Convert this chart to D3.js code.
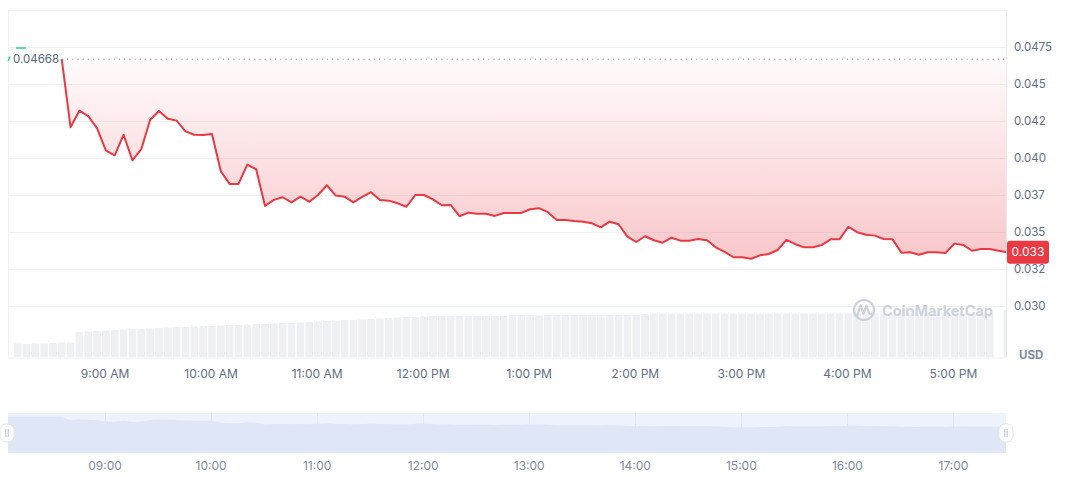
<!DOCTYPE html>
<html>
<head>
<meta charset="utf-8">
<script src="https://cdn.jsdelivr.net/npm/d3@7"></script>
<style>
  body { margin: 0; background: #fff; font-family: Inter, "Noto Sans", sans-serif; }
  svg { display: block; }
</style>
</head>
<body>
<svg id="chart" width="1072" height="477"></svg>
<script>
// price every 5 minutes, starting 08:35:48
var prices = [
  0.04668, 0.04208, 0.04320, 0.04284, 0.04201, 0.04050, 0.04019, 0.04158, 0.03985, 0.04060,
  0.04257, 0.04318, 0.04266, 0.04253, 0.04181, 0.04158, 0.04156, 0.04163, 0.03911, 0.03826,
  0.03826, 0.03956, 0.03925, 0.03677, 0.03718, 0.03736, 0.03702, 0.03740, 0.03706, 0.03751,
  0.03817, 0.03747, 0.03740, 0.03702, 0.03738, 0.03770, 0.03718, 0.03713, 0.03695, 0.03672,
  0.03751, 0.03751, 0.03722, 0.03682, 0.03684, 0.03608, 0.03632, 0.03625, 0.03625, 0.03610,
  0.03630, 0.03630, 0.03630, 0.03655, 0.03662, 0.03635, 0.03583, 0.03583, 0.03576, 0.03571,
  0.03560, 0.03533, 0.03571, 0.03554, 0.03470, 0.03434, 0.03473, 0.03446, 0.03429, 0.03463,
  0.03443, 0.03443, 0.03454, 0.03446, 0.03398, 0.03367, 0.03331, 0.03331, 0.03321, 0.03344,
  0.03353, 0.03380, 0.03448, 0.03419, 0.03398, 0.03398, 0.03414, 0.03452, 0.03452, 0.03537,
  0.03500, 0.03483, 0.03477, 0.03454, 0.03452, 0.03362, 0.03365, 0.03348, 0.03365, 0.03365,
  0.03360, 0.03423, 0.03414, 0.03375, 0.03387, 0.03387, 0.03375, 0.03365
];

// volume bars every 5 minutes, starting 08:10:48 (thousands USD)
var volumes = [
  280, 270, 280, 280, 290, 300, 300,
  510, 520, 530, 540, 550, 560, 570, 570, 580, 590, 600, 610, 610, 620,
  630, 630, 640, 650, 650, 660, 670, 670, 680, 690, 690, 700, 710, 720,
  730, 740, 750, 750, 760, 770, 780, 790, 800, 810, 810, 820,
  830, 830, 830, 830, 830, 830, 830, 830, 830,
  850, 850, 850, 840, 850, 850, 850, 850, 850, 850, 850, 850, 850, 850, 850,
  870, 880, 880, 880, 880, 880, 880, 880, 880, 880, 880, 880, 880, 880, 880,
  880, 880, 880, 880, 880, 880, 880, 880, 880, 880, 880, 880, 880, 880, 880,
  880, 880, 880, 880, 880, 880, 880, 880, 880, 880,
  0, 950
];

var yTicks = [0.030, 0.0325, 0.035, 0.0375, 0.040, 0.0425, 0.045, 0.0475];
var yTickLabels = ["0.030", "0.032", "0.035", "0.037", "0.040", "0.042", "0.045", "0.0475"];
var hourTicks = [9, 10, 11, 12, 13, 14, 15, 16, 17];
var hourLabels = ["9:00 AM", "10:00 AM", "11:00 AM", "12:00 PM", "1:00 PM", "2:00 PM", "3:00 PM", "4:00 PM", "5:00 PM"];
var navLabels = ["09:00", "10:00", "11:00", "12:00", "13:00", "14:00", "15:00", "16:00", "17:00"];
var openPrice = 0.04668;
var openLabel = "0.04668";
var lastLabel = "0.033";

var priceStart = new Date(2024, 0, 1, 8, 35, 48);
var volStart = new Date(2024, 0, 1, 8, 10, 48);
var stepMs = 5 * 60 * 1000;

var red = "#ea3943";
var textGray = "#616e85";
var gridColor = "#eff2f5";

var svg = d3.select("#chart");

var plotL = 8, plotR = 1006, plotT = 10, plotB = 357.5;

var x = d3.scaleTime()
  .domain([new Date(2024, 0, 1, 8, 5, 24), new Date(2024, 0, 1, 17, 30, 0)])
  .range([plotL, plotR]);
var y = d3.scaleLinear().domain([0.030, 0.0475]).range([306.3, 47]);
var yVol = d3.scaleLinear().domain([0, 1000]).range([plotB, plotB - 50]);

var priceData = prices.map(function(v, i) {
  return { t: new Date(priceStart.getTime() + i * stepMs), v: v };
});
var volData = volumes.map(function(v, i) {
  return { t: new Date(volStart.getTime() + i * stepMs), v: v };
});

var defs = svg.append("defs");
defs.append("clipPath").attr("id", "plotClip")
  .append("rect").attr("x", plotL).attr("y", plotT).attr("width", plotR - plotL).attr("height", plotB - plotT);

// gridlines
svg.append("g").selectAll("line")
  .data(yTicks.concat([0.05]))
  .enter().append("line")
  .attr("x1", plotL).attr("x2", plotR)
  .attr("y1", function(d) { return Math.round(y(d)) + 0.5; })
  .attr("y2", function(d) { return Math.round(y(d)) + 0.5; })
  .attr("stroke", gridColor);

// volume bars
var barW = 7.6;
svg.append("g").attr("clip-path", "url(#plotClip)")
  .selectAll("rect").data(volData).enter().append("rect")
  .attr("x", function(d) { return x(d.t) - barW / 2; })
  .attr("width", barW)
  .attr("y", function(d) { return yVol(d.v); })
  .attr("height", function(d) { return plotB - yVol(d.v); })
  .attr("fill", "#eef0f4");

// frame
svg.append("line").attr("x1", plotL + 0.5).attr("x2", plotL + 0.5).attr("y1", plotT).attr("y2", plotB).attr("stroke", gridColor);
svg.append("line").attr("x1", plotR + 0.5).attr("x2", plotR + 0.5).attr("y1", plotT).attr("y2", plotB).attr("stroke", "#e6e9ee");
svg.append("line").attr("x1", plotL).attr("x2", plotR).attr("y1", plotB + 0.5).attr("y2", plotB + 0.5).attr("stroke", gridColor);

// gradient fill between open price and line
var grad = defs.append("linearGradient")
  .attr("id", "redFill").attr("gradientUnits", "userSpaceOnUse")
  .attr("x1", 0).attr("x2", 0).attr("y1", y(openPrice)).attr("y2", y(0.0332));
grad.append("stop").attr("offset", "0%").attr("stop-color", red).attr("stop-opacity", 0.02);
grad.append("stop").attr("offset", "100%").attr("stop-color", red).attr("stop-opacity", 0.28);

var area = d3.area()
  .x(function(d) { return x(d.t); })
  .y0(y(openPrice))
  .y1(function(d) { return y(d.v); });
svg.append("path").datum(priceData).attr("clip-path", "url(#plotClip)")
  .attr("d", area).attr("fill", "url(#redFill)");

// watermark
var wm = svg.append("g").attr("opacity", 0.9);
wm.append("circle").attr("cx", 864).attr("cy", 310).attr("r", 10)
  .attr("fill", "none").attr("stroke", "#c9ced8").attr("stroke-width", 2.2);
wm.append("path")
  .attr("d", "M857.5,315 L860.5,305.5 L863.5,313.5 L866.5,305.5 L868.5,312 Q869.5,315 872,313.5")
  .attr("fill", "none").attr("stroke", "#c9ced8").attr("stroke-width", 2.2)
  .attr("stroke-linejoin", "round").attr("stroke-linecap", "round");
wm.append("text").attr("x", 882).attr("y", 316)
  .attr("font-size", 14.5).attr("font-weight", 700).attr("fill", "#c9ced8")
  .text("CoinMarketCap");

// open price dotted line
svg.append("line")
  .attr("x1", x(priceData[0].t)).attr("x2", plotR)
  .attr("y1", y(openPrice)).attr("y2", y(openPrice))
  .attr("stroke", "#8a94a6").attr("stroke-width", 1)
  .attr("stroke-dasharray", "1.2,4");

// price line
var line = d3.line()
  .x(function(d) { return x(d.t); })
  .y(function(d) { return y(d.v); });
svg.append("path").datum(priceData).attr("clip-path", "url(#plotClip)")
  .attr("d", line).attr("fill", "none")
  .attr("stroke", red).attr("stroke-width", 2)
  .attr("stroke-linejoin", "round");

// open label + marker
svg.append("text").attr("x", 13).attr("y", y(openPrice)).attr("dy", "0.35em")
  .attr("font-size", 11.5).attr("fill", "#58667e").text(openLabel);
svg.append("line").attr("x1", 16).attr("x2", 26).attr("y1", 48).attr("y2", 48)
  .attr("stroke", "#16c784").attr("stroke-width", 1.3);
svg.append("path").attr("d", "M8,61 L10,56.5").attr("fill", "none")
  .attr("stroke", "#16c784").attr("stroke-width", 1.3);

// y axis
var yAxis = svg.append("g").attr("transform", "translate(" + plotR + ",0)")
  .call(d3.axisRight(y).tickValues(yTicks)
    .tickFormat(function(d, i) { return yTickLabels[i]; })
    .tickSize(0).tickPadding(8));
yAxis.select(".domain").remove();
yAxis.selectAll("text").attr("fill", textGray).attr("font-size", 11.5)
  .attr("font-family", "Inter, 'Noto Sans', sans-serif");

svg.append("text").attr("x", 1019).attr("y", 359)
  .attr("font-size", 11.5).attr("font-weight", 700).attr("fill", "#808a9d").text("USD");

// last price tag
var lastY = y(prices[prices.length - 1]);
svg.append("rect").attr("x", 1007).attr("y", lastY - 11.5).attr("width", 42).attr("height", 23)
  .attr("rx", 3).attr("fill", red);
svg.append("text").attr("x", 1028).attr("y", lastY).attr("dy", "0.35em")
  .attr("text-anchor", "middle").attr("font-size", 12).attr("fill", "#fff").text(lastLabel);

// x axis
var hourDates = hourTicks.map(function(h) { return new Date(2024, 0, 1, h, 0, 0); });
var xAxis = svg.append("g").attr("transform", "translate(0," + 369 + ")")
  .call(d3.axisBottom(x).tickValues(hourDates)
    .tickFormat(function(d, i) { return hourLabels[i]; })
    .tickSize(0).tickPadding(0));
xAxis.select(".domain").remove();
xAxis.selectAll("text").attr("fill", textGray).attr("font-size", 12)
  .attr("font-family", "Inter, 'Noto Sans', sans-serif");

// navigator
var navTop = 413, navBottom = 453;
var yNav = d3.scaleLinear().domain([0, 0.0515]).range([navBottom, navTop]);
var nav = svg.append("g");
nav.append("rect").attr("x", plotL).attr("y", navTop).attr("width", plotR - plotL)
  .attr("height", navBottom - navTop).attr("fill", "#eef2fc");
nav.selectAll("line.hour").data(hourDates).enter().append("line")
  .attr("class", "hour")
  .attr("x1", function(d) { return Math.round(x(d)) + 0.5; })
  .attr("x2", function(d) { return Math.round(x(d)) + 0.5; })
  .attr("y1", navTop).attr("y2", navBottom).attr("stroke", "#e1e7f5");
var navData = [{ t: x.domain()[0], v: prices[0] }].concat(priceData);
nav.append("path").datum(navData)
  .attr("d", d3.area()
    .x(function(d) { return Math.min(x(d.t), plotR); })
    .y0(navBottom)
    .y1(function(d) { return yNav(d.v); }))
  .attr("fill", "#dfe6f6");

[plotL - 1, plotR].forEach(function(cx) {
  var h = nav.append("g");
  h.append("rect").attr("x", cx - 7).attr("y", 424).attr("width", 14).attr("height", 18)
    .attr("rx", 6).attr("fill", "#fff").attr("stroke", "#e3e6ec");
  [-1.2, 1.2].forEach(function(dx) {
    h.append("line").attr("x1", cx + dx).attr("x2", cx + dx).attr("y1", 429).attr("y2", 437)
      .attr("stroke", "#a6b0c3").attr("stroke-width", 0.8);
  });
});

var navAxis = svg.append("g").attr("transform", "translate(0," + 461 + ")")
  .call(d3.axisBottom(x).tickValues(hourDates)
    .tickFormat(function(d, i) { return navLabels[i]; })
    .tickSize(0).tickPadding(0));
navAxis.select(".domain").remove();
navAxis.selectAll("text").attr("fill", "#808a9d").attr("font-size", 12)
  .attr("font-family", "Inter, 'Noto Sans', sans-serif");
</script>
</body>
</html>
